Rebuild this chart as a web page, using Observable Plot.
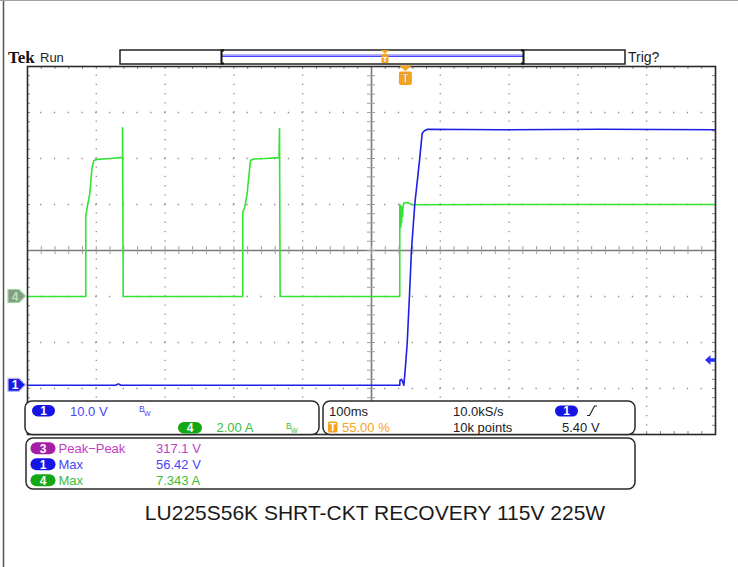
<!DOCTYPE html>
<html><head><meta charset="utf-8">
<script src="https://cdn.jsdelivr.net/npm/d3@7"></script>
<script src="https://cdn.jsdelivr.net/npm/@observablehq/plot@0.6"></script>
<style>
body{margin:0;background:#fff;}
#wrap{position:relative;width:738px;height:567px;overflow:hidden;font-family:"Liberation Sans",Arial,sans-serif;}
#wrap svg{position:absolute;left:0;top:0;}
</style></head><body><div id="wrap"></div>
<script>
// ---- scope settings ----
const timePerDiv = 100;          // ms/div
const ch1VoltsPerDiv = 10;       // V/div
const ch4AmpsPerDiv = 2;         // A/div
const ch1Position = -2.93;       // divisions
const ch4Position = -1.0;        // divisions
const triggerTime = 550;         // ms from left edge (55.00 %)
const triggerLevel = 5.4;        // V

// ---- channel 4 (current, A) ----
const ch4Time = [0, 84.7, 84.7, 85.8, 86.8, 90.6, 92.6, 94.0, 96.4, 101.3, 120.6, 135.2, 138.1, 138.1, 139.1,
  312.9, 312.9, 315.8, 319.3, 321.7, 324.1, 328.5, 345.9, 365.6, 366.3, 367.2,
  541.1, 541.1, 541.6, 542.2, 542.7, 543.3, 543.9, 544.5, 545.1, 545.8, 547.0, 552.3, 559.1, 687.5, 832.8, 1000];
const ch4Amps = [0, 0, 3.52, 3.67, 3.88, 4.48, 5.19, 5.62, 5.91, 5.96, 6.0, 6.04, 6.04, 7.34, 0,
  0, 3.67, 3.88, 4.48, 5.22, 5.91, 5.98, 6.0, 6.04, 7.3, 0,
  0, 4.0, 2.96, 3.96, 3.04, 3.91, 3.22, 3.87, 3.48, 3.91, 4.06, 4.09, 3.99, 4.0, 4.0, 4.0];

// ---- channel 1 (voltage, V) ----
const ch1Time = [0, 128, 132, 136, 498.5, 541.1, 541.4, 543.6, 545.1, 547.0, 548.7, 551.9, 555.2, 558.1, 562.9, 569.8, 573.7, 577.0, 581.4, 687.5, 832.8, 1000];
const ch1Volts = [0, 0, 0.3, 0, 0, 0, 1.09, 1.30, 0.87, 0, 2.83, 9.13, 19.57, 29.35, 39.35, 48.91, 54.78, 55.33, 55.65, 55.54, 55.65, 55.54];

// ---- readouts ----
const ch1Scale = "10.0 V", ch4Scale = "2.00 A";
const horizScale = "100ms", sampleRate = "10.0kS/s", recordLen = "10k points";
const trigPosLabel = "55.00 %", trigLevelLabel = "5.40 V";
const measLabels = ["Peak\u2212Peak", "Max", "Max"];
const measValues = ["317.1 V", "56.42 V", "7.343 A"];
const measChannels = ["3", "1", "4"];
const caption = "LU225S56K SHRT-CKT RECOVERY 115V 225W";

const green = ch4Time.map((t, i) => ({t, v: ch4Amps[i]}));
const blue = ch1Time.map((t, i) => ({t, v: ch1Volts[i]}));

const W = 738, H = 567, mL = 27, mR = 23, mT = 66, mB = 133;
const pxX = 1000 / (W - mL - mR);   // ms per pixel
const pxY = 8 / (H - mT - mB);      // div per pixel
const subX = d3.range(0, 1000.001, timePerDiv / 5);
const subY = d3.range(-4, 4.001, 0.2);

const plot = Plot.plot({
  width: W, height: H, marginLeft: mL, marginRight: mR, marginTop: mT, marginBottom: mB,
  x: {domain: [0, 1000], axis: null},
  y: {domain: [-4, 4], axis: null},
  marks: [
    Plot.ruleX([100, 200, 300, 400, 600, 700, 800, 900], {stroke: "#8c8c8c", strokeWidth: 1.3, strokeDasharray: "1.3 7.9", strokeDashoffset: 0.65}),
    Plot.ruleY([-3, -2, -1, 1, 2, 3], {stroke: "#8c8c8c", strokeWidth: 1.3, strokeDasharray: "1.3 12.46", strokeDashoffset: 0.65}),
    Plot.ruleX([500], {stroke: "#7a7a7a", strokeWidth: 1.6}),
    Plot.ruleY([0], {stroke: "#7a7a7a", strokeWidth: 1.6}),
    Plot.ruleX(subX, {y1: -4 * pxY, y2: 4 * pxY, stroke: "#a0a0a0", strokeWidth: 1}),
    Plot.ruleY(subY, {x1: 500 - 4 * pxX, x2: 500 + 4 * pxX, stroke: "#a0a0a0", strokeWidth: 1}),
    Plot.ruleY(subY, {x1: 0, x2: 3 * pxX, stroke: "#888", strokeWidth: 1}),
    Plot.ruleY(subY, {x1: 1000 - 3 * pxX, x2: 1000, stroke: "#888", strokeWidth: 1}),
    Plot.ruleX(subX, {y1: 4, y2: 4 - 3 * pxY, stroke: "#888", strokeWidth: 1}),
    Plot.ruleX(subX, {y1: -4, y2: -4 + 3 * pxY, stroke: "#888", strokeWidth: 1}),
    Plot.line(green, {x: "t", y: d => d.v / ch4AmpsPerDiv + ch4Position, stroke: "#34e234", strokeWidth: 1.6}),
    Plot.line(blue, {x: "t", y: d => d.v / ch1VoltsPerDiv + ch1Position, stroke: "#1e1ee6", strokeWidth: 1.6}),
    Plot.frame({stroke: "#2a2a2a", strokeWidth: 1.6})
  ]
});
document.getElementById("wrap").appendChild(plot);

const sx = plot.scale("x"), sy = plot.scale("y");
const X = v => sx.apply(v), Y = v => sy.apply(v);
const ov = d3.select("#wrap").append("svg").attr("width", W).attr("height", H)
  .style("font-family", "'Liberation Sans',Arial,sans-serif");

// outer borders
ov.append("line").attr("x1", 3.5).attr("x2", 3.5).attr("y1", 0).attr("y2", H).attr("stroke", "#555").attr("stroke-width", 1.5);
ov.append("line").attr("x1", 0).attr("x2", W).attr("y1", 0.5).attr("y2", 0.5).attr("stroke", "#a0a0a0");

// Tek Run
ov.append("text").attr("x", 8).attr("y", 63).attr("font-family", "'Liberation Serif',serif").attr("font-weight", "bold").attr("font-size", 17).attr("fill", "#111").text("Tek");
ov.append("text").attr("x", 40).attr("y", 62).attr("font-size", 13).attr("fill", "#222").text("Run");

// record bar
ov.append("rect").attr("x", 120).attr("y", 50).attr("width", 505).attr("height", 14).attr("fill", "#fff").attr("stroke", "#222").attr("stroke-width", 1.5);
ov.append("line").attr("x1", 221).attr("x2", 524).attr("y1", 54.5).attr("y2", 54.5).attr("stroke", "#b4b4ff").attr("stroke-width", 1);
ov.append("line").attr("x1", 221).attr("x2", 524).attr("y1", 56.3).attr("y2", 56.3).attr("stroke", "#4646ff").attr("stroke-width", 1.4);
ov.append("path").attr("d", "M224,50.5H221.5V63.5H224M521,50.5H523.5V63.5H521").attr("fill", "none").attr("stroke", "#111").attr("stroke-width", 2);
const orange = "#f7a21b";
ov.append("polygon").attr("points", "381,50 389,50 385,54").attr("fill", orange);
ov.append("rect").attr("x", 381.5).attr("y", 54).attr("width", 7).attr("height", 9).attr("rx", 1.5).attr("fill", orange);
ov.append("text").attr("x", 385).attr("y", 62).attr("text-anchor", "middle").attr("font-size", 8).attr("font-weight", "bold").attr("fill", "#fff").text("T");
ov.append("text").attr("x", 628).attr("y", 62).attr("font-size", 14).attr("fill", "#222").text("Trig?");

// trigger position marker
const tx = X(triggerTime);
ov.append("polygon").attr("points", `${tx - 6.5},65.5 ${tx + 6.5},65.5 ${tx},71`).attr("fill", orange);
ov.append("rect").attr("x", tx - 6.5).attr("y", 71.5).attr("width", 13).attr("height", 13.5).attr("rx", 2).attr("fill", orange);
ov.append("text").attr("x", tx).attr("y", 83).attr("text-anchor", "middle").attr("font-size", 12).attr("font-weight", "bold").attr("fill", "#fff").attr("stroke", "#c07000").attr("stroke-width", 0.4).text("T");

// channel markers
function chMarker(y, fill, stroke, txtFill, label) {
  ov.append("polygon").attr("points", `8,${y - 6.5} 19,${y - 6.5} 25.5,${y} 19,${y + 6.5} 8,${y + 6.5}`)
    .attr("fill", fill).attr("stroke", stroke).attr("stroke-width", 1.2);
  ov.append("text").attr("x", 15).attr("y", y + 4.5).attr("text-anchor", "middle").attr("font-size", 12).attr("font-weight", "bold").attr("fill", txtFill).text(label);
}
chMarker(Y(ch4Position), "#8a978a", "#8fe08f", "#b0eab0", "4");
chMarker(Y(ch1Position), "#1a1ae0", "#b4b8ff", "#fff", "1");

// trigger level arrow (right)
const ty = Y(triggerLevel / ch1VoltsPerDiv + ch1Position);
ov.append("polygon").attr("points", `705,${ty} 710.5,${ty - 5} 710.5,${ty - 1.8} 715,${ty - 1.8} 715,${ty + 1.8} 710.5,${ty + 1.8} 710.5,${ty + 5}`).attr("fill", "#2e2eff");

// info boxes
function box(x, y, w, h) {
  ov.append("rect").attr("x", x).attr("y", y).attr("width", w).attr("height", h).attr("rx", 7).attr("fill", "#fff").attr("stroke", "#2a2a2a").attr("stroke-width", 1.5);
}
function pill(x, y, w, h, fill, label) {
  ov.append("rect").attr("x", x).attr("y", y).attr("width", w).attr("height", h).attr("rx", h / 2).attr("fill", fill);
  ov.append("text").attr("x", x + w / 2).attr("y", y + h / 2 + 4.3).attr("text-anchor", "middle").attr("font-size", 12).attr("font-weight", "bold").attr("fill", "#fff").text(label);
}
function txt(x, y, s, fill, size = 13) {
  ov.append("text").attr("x", x).attr("y", y).attr("font-size", size).attr("fill", fill).text(s);
}
function bw(x, y, fill) {
  txt(x, y, "B", fill, 8.5);
  txt(x + 5, y + 3.5, "W", fill, 7);
}
const blueTxt = "#4646f5", greenTxt = "#3cbd3c", purpleTxt = "#c23ec2";
const bluePill = "#1515e6", greenPill = "#13a813", purplePill = "#a51ea5";

box(25, 401, 294, 33.5);
pill(32, 405, 23, 11.5, bluePill, "1");
txt(70, 415.5, ch1Scale, blueTxt);
bw(139, 412, blueTxt);
pill(178, 422, 24, 11.5, greenPill, "4");
txt(216.5, 432, ch4Scale, greenTxt);
bw(286, 429, greenTxt);

box(323, 401, 312, 33.5);
txt(329, 415.5, horizScale, "#222");
txt(453, 415.5, sampleRate, "#222");
pill(555, 405.5, 23, 11, bluePill, "1");
ov.append("path").attr("d", "M587,415.5H589.5L594.5,406H597").attr("fill", "none").attr("stroke", "#222").attr("stroke-width", 1.2);
ov.append("rect").attr("x", 328).attr("y", 421.5).attr("width", 9.5).attr("height", 11).attr("rx", 1.5).attr("fill", orange);
ov.append("text").attr("x", 332.8).attr("y", 431).attr("text-anchor", "middle").attr("font-size", 10).attr("font-weight", "bold").attr("fill", "#fff").text("T");
txt(342, 432, trigPosLabel, orange);
txt(453, 432, recordLen, "#222");
txt(562, 432, trigLevelLabel, "#222");

box(26, 438, 609, 51);
const rowY = [448.3, 464.3, 480.2];
const rowPill = [purplePill, bluePill, greenPill];
const rowTxt = [purpleTxt, blueTxt, greenTxt];
rowY.forEach((cy, i) => {
  pill(30.5, cy - 6, 25, 12, rowPill[i], measChannels[i]);
  txt(58.5, cy + 4.7, measLabels[i], rowTxt[i]);
  txt(156, cy + 4.7, measValues[i], rowTxt[i]);
});

// caption
ov.append("text").attr("x", 375).attr("y", 520).attr("text-anchor", "middle").attr("font-size", 21).attr("fill", "#1a1a1a").text(caption);
</script></body></html>
